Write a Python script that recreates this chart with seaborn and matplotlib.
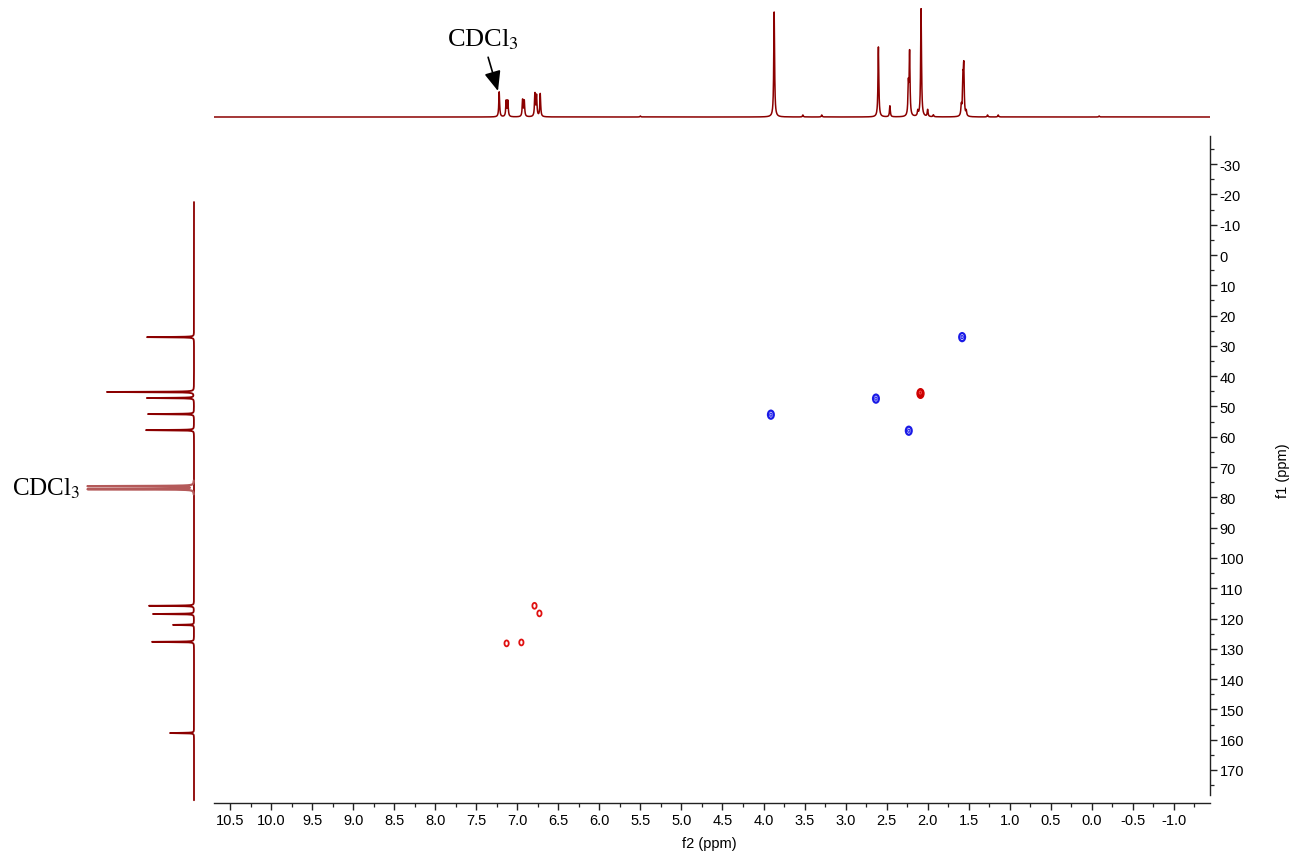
import numpy as np
import pandas as pd
import matplotlib
matplotlib.use("Agg")
import matplotlib.pyplot as plt
import seaborn as sns
from matplotlib.path import Path
from matplotlib.transforms import Affine2D
from matplotlib.ticker import FixedLocator, FormatStrFormatter

# ---------------- data ----------------
# 1H projection (top): chemical shift (ppm) and peak height (arb.)
h1_shift = [7.22, 7.135, 7.115, 6.935, 6.915, 6.785, 6.765, 6.72, 5.50,
            3.87, 3.52, 3.29, 2.60, 2.46, 2.235, 2.22, 2.12, 2.08, 2.00,
            1.93, 1.59, 1.57, 1.56, 1.53, 1.27, 1.14, -0.09]
h1_height = [25, 16, 16, 17, 16, 23, 21, 23, 1,
             105, 2, 2, 70, 11, 30, 63, 5, 108, 7,
             2, 10, 33, 47, 5, 2, 2, 1]

# 13C projection (left): chemical shift (ppm) and peak height (arb.)
c13_shift = [27.1, 45.2, 47.2, 52.5, 57.8, 115.8, 118.5, 122.1, 127.7, 157.8]
c13_height = [47, 87, 47, 46, 48, 45, 41, 21, 42, 24]
# solvent (CDCl3) lines of the 13C projection
solv_shift = [76.3, 77.3]
solv_height = [106, 106]

# HSQC cross peaks: f2 (1H ppm), f1 (13C ppm), phase
hsqc_f2 = [1.58, 2.63, 3.91, 2.23, 2.09, 6.79, 6.73, 7.13, 6.95]
hsqc_f1 = [27.1, 47.4, 52.7, 58.0, 45.4, 115.8, 118.3, 128.2, 127.9]
hsqc_phase = ["neg", "neg", "neg", "neg", "pos_big", "pos", "pos", "pos", "pos"]

x_ticks = [10.5, 10.0, 9.5, 9.0, 8.5, 8.0, 7.5, 7.0, 6.5, 6.0, 5.5, 5.0, 4.5,
           4.0, 3.5, 3.0, 2.5, 2.0, 1.5, 1.0, 0.5, 0.0, -0.5, -1.0]
y_ticks = [-30, -20, -10, 0, 10, 20, 30, 40, 50, 60, 70, 80, 90, 100, 110,
           120, 130, 140, 150, 160, 170]

# ---------------- style ----------------
sns.set_style("ticks")
plt.rcParams["font.family"] = ["Liberation Sans", "DejaVu Sans"]
plt.rcParams["mathtext.fontset"] = "stix"
plt.rcParams["axes.unicode_minus"] = False
plt.rcParams["text.color"] = "black"
plt.rcParams["axes.labelcolor"] = "black"

W, H = 1295, 854
fig = plt.figure(figsize=(W / 100, H / 100), dpi=100)

def rect(x0, y0, x1, y1):
    return [x0 / W, 1 - y1 / H, (x1 - x0) / W, (y1 - y0) / H]

XL = (10.695, -1.44)
YL = (180.9, -39.3)

ax = fig.add_axes(rect(214, 137, 1210, 804))
ax_top = fig.add_axes(rect(214, 8, 1210, 122))
ax_left = fig.add_axes(rect(60, 137, 200, 804))

spec_col = "#8b0000"

def lorentz(grid, shifts, heights, hw):
    g = np.asarray(grid)[:, None]
    s = np.asarray(shifts)[None, :]
    h = np.asarray(heights)[None, :]
    return (h * hw ** 2 / ((g - s) ** 2 + hw ** 2)).sum(axis=1)

# ---------------- top 1H projection ----------------
gx = np.arange(XL[1], XL[0], 0.002)
top_df = pd.DataFrame({"ppm": gx, "I": lorentz(gx, h1_shift, h1_height, 0.006)})
sns.lineplot(data=top_df, x="ppm", y="I", ax=ax_top, color=spec_col, lw=1.1,
             estimator=None, sort=False)
ax_top.set_xlim(*XL)
ax_top.set_ylim(-4, 110)
ax_top.axis("off")

ax_top.annotate(r"CDCl$_3$", xy=(7.235, 26), xytext=(7.42, 78),
                ha="center", va="center", fontsize=19, color="black",
                family=["Liberation Serif", "DejaVu Serif"],
                arrowprops=dict(arrowstyle="-|>,head_length=0.6,head_width=0.25",
                                color="black", lw=1.2, mutation_scale=20,
                                shrinkA=2, shrinkB=0))

# ---------------- left 13C projection ----------------
gy = np.arange(-17.5, 180.0, 0.005)
left_df = pd.DataFrame({"ppm": gy, "I": lorentz(gy, c13_shift, c13_height, 0.07)})
sns.lineplot(data=left_df, x="I", y="ppm", ax=ax_left, color=spec_col, lw=1.3,
             estimator=None, sort=False, orient="y")
gs = np.arange(74.5, 79.0, 0.005)
solv_df = pd.DataFrame({"ppm": gs, "I": lorentz(gs, solv_shift, solv_height, 0.07)})
sns.lineplot(data=solv_df, x="I", y="ppm", ax=ax_left, color="#b45a5a", lw=1.6,
             estimator=None, sort=False, orient="y")
ax_left.set_xlim(134, -6)
ax_left.set_ylim(*YL)
ax_left.axis("off")
ax_left.text(114, 76.8, r"CDCl$_3$", ha="right", va="center", fontsize=18,
             color="black", family=["Liberation Serif", "DejaVu Serif"])

# ---------------- HSQC cross peaks ----------------
ell = Path.unit_circle().transformed(Affine2D().scale(0.72, 1.0))
cp = pd.DataFrame({"f2": hsqc_f2, "f1": hsqc_f1, "phase": hsqc_phase})

neg = cp[cp.phase == "neg"]
sns.scatterplot(data=neg, x="f2", y="f1", ax=ax, marker=ell, s=34,
                facecolors="none", edgecolor="#1a1ae6", linewidth=1.6, legend=False)
sns.scatterplot(data=neg, x="f2", y="f1", ax=ax, marker=ell, s=5,
                facecolors="none", edgecolor="#2a2af0", linewidth=0.9, legend=False)

pos = cp[cp.phase == "pos"]
sns.scatterplot(data=pos, x="f2", y="f1", ax=ax, marker=ell, s=18,
                facecolors="none", edgecolor="#e01010", linewidth=1.3, legend=False)

big = cp[cp.phase == "pos_big"]
sns.scatterplot(data=big, x="f2", y="f1", ax=ax, marker=ell, s=48,
                facecolors="#c80000", edgecolor="#d00000", linewidth=1.0, legend=False)
sns.scatterplot(data=big, x="f2", y="f1", ax=ax, marker=ell, s=5,
                facecolors="none", edgecolor="#ff5050", linewidth=0.6, legend=False)

# ---------------- main axes styling ----------------
ax.set_xlim(*XL)
ax.set_ylim(*YL)
for side in ("top", "left"):
    ax.spines[side].set_visible(False)
ax.spines["right"].set_bounds(178.2, YL[1])
ax.spines["right"].set_linewidth(1.0)
ax.spines["bottom"].set_linewidth(1.0)
ax.spines["right"].set_color("#222222")
ax.spines["bottom"].set_color("#222222")

ax.yaxis.tick_right()
ax.xaxis.set_major_locator(FixedLocator(x_ticks))
ax.xaxis.set_minor_locator(FixedLocator(np.arange(-1.25, 10.6, 0.25)))
ax.xaxis.set_major_formatter(FormatStrFormatter("%.1f"))
ax.yaxis.set_major_locator(FixedLocator(y_ticks))
ax.yaxis.set_minor_locator(FixedLocator(np.arange(-35, 176, 5)))
ax.tick_params(axis="both", which="major", direction="out", length=5, width=1.0,
               labelsize=10.5, pad=2, colors="#222222", labelcolor="black")
ax.tick_params(axis="both", which="minor", direction="out", length=3, width=0.9,
               colors="#222222")
ax.tick_params(axis="y", which="both", left=False, right=True,
               labelleft=False, labelright=True)

ax.set_xlabel("f2 (ppm)", fontsize=10.5, color="black")
ax.xaxis.set_label_coords(0.497, -0.049)
ax.set_ylabel("f1 (ppm)", fontsize=10.5, color="black")
ax.yaxis.set_label_position("right")
ax.yaxis.set_label_coords((1276 - 214) / 996, 0.5)

fig.savefig("out.png", dpi=100)
